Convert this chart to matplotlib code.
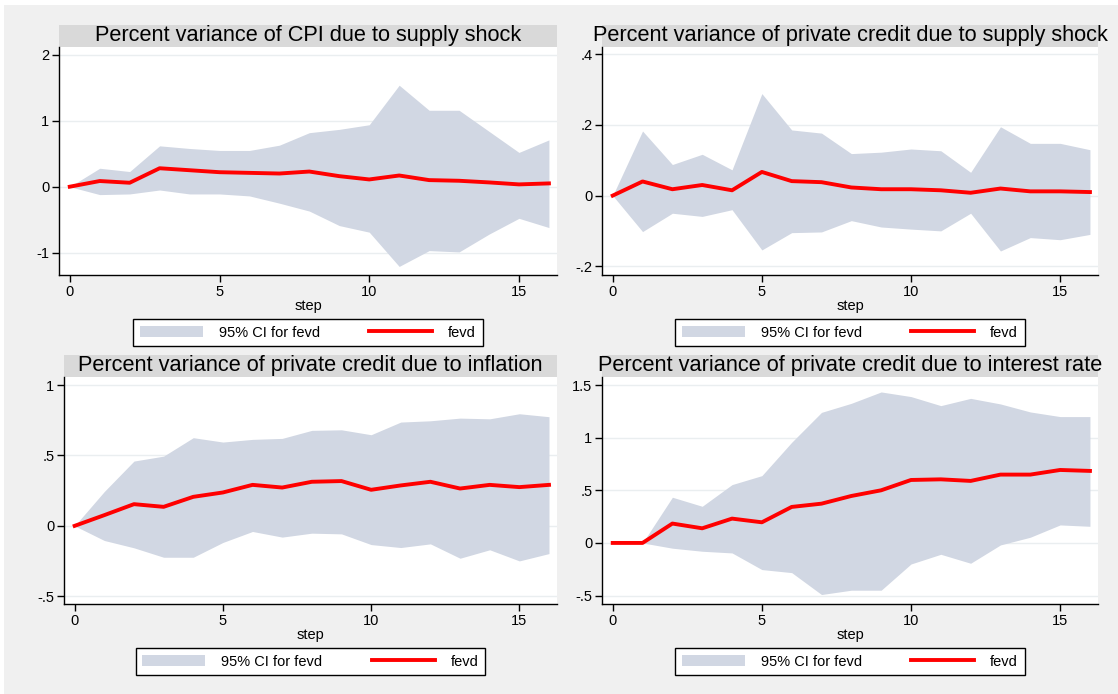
import matplotlib.pyplot as plt
from matplotlib.patches import Rectangle

plt.rcParams['font.family'] = ['Liberation Sans', 'DejaVu Sans']

steps = list(range(17))

titles = [
    "Percent variance of CPI due to supply shock",
    "Percent variance of private credit due to supply shock",
    "Percent variance of private credit due to inflation",
    "Percent variance of private credit due to interest rate",
]

# CPI due to supply shock
cpi_supply_fevd = [0, 0.086, 0.06, 0.28, 0.25, 0.22, 0.21, 0.20, 0.23, 0.16, 0.11,
                   0.17, 0.10, 0.09, 0.065, 0.035, 0.05]
cpi_supply_upper = [0, 0.28, 0.23, 0.62, 0.58, 0.55, 0.55, 0.63, 0.82, 0.87, 0.94,
                    1.54, 1.16, 1.16, 0.84, 0.52, 0.71]
cpi_supply_lower = [0, -0.12, -0.11, -0.05, -0.11, -0.11, -0.14, -0.25, -0.37, -0.59, -0.69,
                    -1.21, -0.97, -0.99, -0.72, -0.48, -0.62]

# private credit due to supply shock
credit_supply_fevd = [0, 0.04, 0.018, 0.03, 0.015, 0.067, 0.041, 0.038, 0.023, 0.018, 0.018,
                      0.015, 0.008, 0.02, 0.012, 0.012, 0.01]
credit_supply_upper = [0, 0.183, 0.088, 0.117, 0.073, 0.289, 0.186, 0.177, 0.119, 0.123, 0.132,
                       0.127, 0.066, 0.195, 0.148, 0.148, 0.13]
credit_supply_lower = [0, -0.102, -0.05, -0.059, -0.04, -0.154, -0.105, -0.103, -0.071, -0.089, -0.095,
                       -0.1, -0.05, -0.157, -0.119, -0.125, -0.11]

# private credit due to inflation
credit_infl_fevd = [0, 0.076, 0.154, 0.135, 0.206, 0.237, 0.291, 0.272, 0.313, 0.318, 0.256,
                    0.287, 0.313, 0.265, 0.291, 0.275, 0.291]
credit_infl_upper = [0, 0.244, 0.46, 0.495, 0.626, 0.595, 0.614, 0.621, 0.678, 0.682, 0.647,
                     0.737, 0.746, 0.765, 0.76, 0.796, 0.775]
credit_infl_lower = [0, -0.104, -0.156, -0.223, -0.223, -0.118, -0.04, -0.08, -0.052, -0.057, -0.133,
                     -0.154, -0.128, -0.23, -0.17, -0.249, -0.197]

# private credit due to interest rate
credit_rate_fevd = [0, 0, 0.184, 0.139, 0.231, 0.196, 0.342, 0.373, 0.446, 0.5, 0.598,
                    0.604, 0.589, 0.649, 0.649, 0.693, 0.684]
credit_rate_upper = [0, 0, 0.434, 0.348, 0.554, 0.639, 0.956, 1.24, 1.326, 1.434, 1.39,
                     1.304, 1.373, 1.32, 1.244, 1.2, 1.2]
credit_rate_lower = [0, 0, -0.05, -0.079, -0.095, -0.253, -0.282, -0.49, -0.449, -0.449, -0.2,
                     -0.108, -0.193, -0.019, 0.054, 0.171, 0.158]

fevds = [cpi_supply_fevd, credit_supply_fevd, credit_infl_fevd, credit_rate_fevd]
uppers = [cpi_supply_upper, credit_supply_upper, credit_infl_upper, credit_rate_upper]
lowers = [cpi_supply_lower, credit_supply_lower, credit_infl_lower, credit_rate_lower]

yticks = [[-1, 0, 1, 2], [-0.2, 0, 0.2, 0.4], [-0.5, 0, 0.5, 1], [-0.5, 0, 0.5, 1, 1.5]]
yticklabels = [["-1", "0", "1", "2"], ["-.2", "0", ".2", ".4"],
               ["-.5", "0", ".5", "1"], ["-.5", "0", ".5", "1", "1.5"]]
ylims = [(-1.34, 2.12), (-0.225, 0.421), (-0.555, 1.057), (-0.58, 1.576)]
xticks = [0, 5, 10, 15]

W, H = 1118, 694
# axes boxes in pixels: left, right, top, bottom
boxes = [(59, 557, 47, 275), (602, 1098, 47, 275),
         (64, 557, 377, 604), (602, 1098, 377, 604)]

ci_color = '#d1d7e3'
bg_color = '#f0f0f0'

fig = plt.figure(figsize=(W / 100, H / 100), dpi=100)
fig.patch.set_facecolor(bg_color)
# thin white border at top and left
fig.patches.append(Rectangle((0, 1 - 5 / H), 1, 5 / H, transform=fig.transFigure,
                             facecolor='white', edgecolor='none'))
fig.patches.append(Rectangle((0, 0), 4 / W, 1, transform=fig.transFigure,
                             facecolor='white', edgecolor='none'))

for i in range(4):
    l, r, t, b = boxes[i]
    ax = fig.add_axes([l / W, 1 - b / H, (r - l) / W, (b - t) / H])
    ax.set_facecolor('white')

    ax.fill_between(steps, lowers[i], uppers[i], color=ci_color, linewidth=0,
                    label='95% CI for fevd')
    ax.plot(steps, fevds[i], color='#ff0000', linewidth=2.8, label='fevd')

    ax.set_xlim(-0.36, 16.27)
    ax.set_ylim(*ylims[i])
    ax.set_xticks(xticks)
    ax.set_yticks(yticks[i])
    ax.set_yticklabels(yticklabels[i])
    ax.tick_params(direction='out', length=5, width=1, labelsize=10.5, pad=2, colors='black')
    ax.yaxis.grid(True, color='#eaeef0', linewidth=1)
    ax.set_axisbelow(True)
    for s in ['top', 'right']:
        ax.spines[s].set_visible(False)
    for s in ['left', 'bottom']:
        ax.spines[s].set_linewidth(1)
        ax.spines[s].set_color('black')

    ax.set_xlabel('step', fontsize=10.5, labelpad=0)

    # gray title band
    hgt = b - t
    ax.add_patch(Rectangle((0, 1), 1, 22 / hgt, transform=ax.transAxes, clip_on=False,
                           facecolor='#d9d9d9', edgecolor='none'))
    ax.text(0.5, 1 + 11.5 / hgt, titles[i], transform=ax.transAxes, ha='center',
            va='center', fontsize=15.7, color='black')

    leg = ax.legend(loc='upper center', bbox_to_anchor=(0.5, -44 / hgt), ncol=2,
                    fontsize=10.5, frameon=True, fancybox=False, edgecolor='black',
                    framealpha=1, borderaxespad=0, handlelength=4.3, handleheight=0.85,
                    handletextpad=1.1, columnspacing=3.4, borderpad=0.45)
    leg.get_frame().set_linewidth(1)

fig.savefig('out.png', dpi=100, facecolor=fig.get_facecolor())
